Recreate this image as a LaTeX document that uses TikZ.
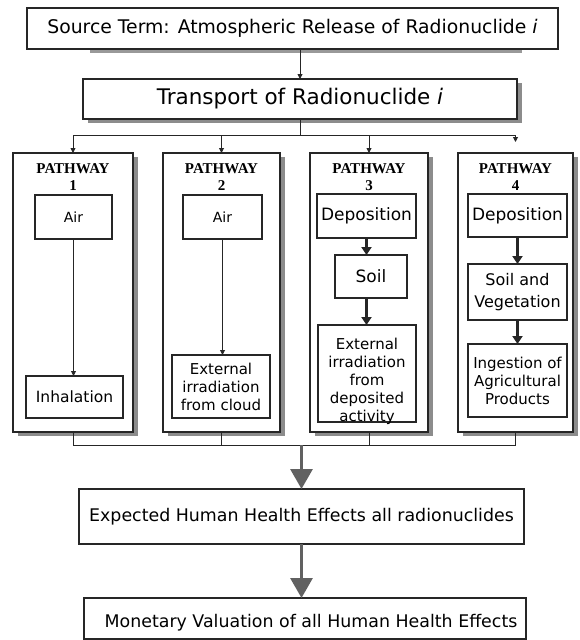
\documentclass[tikz,border=0pt]{standalone}
\usepackage{fontspec}
\setmainfont{DejaVu Sans}
\newfontfamily\pwfont{Liberation Serif}
\usetikzlibrary{arrows.meta,shadows}
\begin{document}
\begin{tikzpicture}[x=1pt,y=-1pt,
  box/.style={draw=black!85, line width=1.3pt, fill=white, anchor=north west, inner sep=0pt, outer sep=0pt, align=center},
  shad/.style={drop shadow={shadow xshift=5pt, shadow yshift=-4pt, fill=black!45, opacity=1}},
  inbox/.style={draw=black!85, line width=1.1pt, fill=white, anchor=north west, inner sep=0pt, outer sep=0pt, align=center, font=\fontsize{15}{18}\selectfont},
  intext/.style={align=center, inner sep=0pt, font=\fontsize{15}{18}\selectfont},
  head/.style={align=center, inner sep=0pt, font=\pwfont\bfseries\fontsize{15}{17}\selectfont},
  thinarr/.style={draw=black!85, line width=0.9pt, -{Triangle[length=5pt,width=5pt]}},
  thickarr/.style={draw=black!85, line width=2.2pt, -{Triangle[length=8pt,width=10pt]}},
  bigarr/.style={draw=black!62, line width=3pt, -{Triangle[length=20pt,width=22pt]}},
  conn/.style={draw=black!85, line width=0.9pt},
]
\useasboundingbox (0,0) rectangle (579,640);
% top box
\fill[black!40] (90,49) rectangle (522,53);
\node[box, minimum width=531pt, minimum height=41pt, font=\fontsize{18.8}{21}\selectfont] (top) at (27,8)
  {Source Term: Atmospheric Release of Radionuclide \textit{i}};
\node[box, shad, minimum width=434pt, minimum height=40pt, font=\fontsize{21.5}{24}\selectfont] (tr) at (83,79)
  {Transport of Radionuclide \textit{i}};
% pathway boxes
\node[box, shad, minimum width=120pt, minimum height=279pt] (p1) at (13,153) {};
\node[box, shad, minimum width=117pt, minimum height=279pt] (p2) at (163,153) {};
\node[box, shad, minimum width=118pt, minimum height=279pt] (p3) at (310,153) {};
\node[box, shad, minimum width=115pt, minimum height=279pt] (p4) at (458,153) {};
% headers
\node[head] (h1) at (73,177) {PATHWAY\\1};
\node[head] (h2) at (221.5,177) {PATHWAY\\2};
\node[head] (h3) at (369,177) {PATHWAY\\3};
\node[head] (h4) at (515.5,177) {PATHWAY\\4};
% inner boxes
\node[inbox, minimum width=77pt, minimum height=44pt, font=\fontsize{14}{18}\selectfont] (a1) at (35,195) {Air};
\node[inbox, minimum width=97pt, minimum height=42pt, font=\fontsize{15.5}{18}\selectfont] (i1) at (26,376) {Inhalation};
\node[inbox, minimum width=79pt, minimum height=44pt, font=\fontsize{14}{18}\selectfont] (a2) at (183,195) {Air};
\node[inbox, minimum width=98pt, minimum height=63pt] (e2) at (172,355) {External\\irradiation\\from cloud};
\node[inbox, minimum width=99pt, minimum height=44pt, font=\fontsize{17}{18}\selectfont] (d3) at (317,194) {Deposition};
\node[inbox, minimum width=72pt, minimum height=43pt, font=\fontsize{17}{18}\selectfont] (s3) at (335,255) {Soil};
\node[inbox, minimum width=98pt, minimum height=97pt] (e3) at (318,325) {};
\node[intext] (t3) at (367,381) {External\\irradiation\\from\\deposited\\activity};
\node[inbox, minimum width=99pt, minimum height=43pt, font=\fontsize{17}{18}\selectfont] (d4) at (468,194) {Deposition};
\node[inbox, minimum width=99pt, minimum height=56pt, font=\fontsize{16}{22}\selectfont] (s4) at (468,264) {Soil and\\Vegetation};
\node[inbox, minimum width=99pt, minimum height=73pt] (g4) at (468,344) {Ingestion of\\Agricultural\\Products};
% bottom boxes
\node[box, minimum width=445pt, minimum height=55pt, font=\fontsize{17.4}{20}\selectfont] (exp) at (79,489)
  {Expected Human Health Effects all radionuclides};
\node[box, minimum width=442pt, minimum height=41pt] (mon) at (84,598) {};
\node[inner sep=0pt, font=\fontsize{17.4}{20}\selectfont] (mt) at (311,623) {Monetary Valuation of all Human Health Effects};
% top connectors
\coordinate (tb) at (301,135);
\coordinate (p4in) at (515.5,142);
\draw[thinarr] (top.south -| tr.north) -- (tr.north);
\draw[conn] (tr.south) -- (tr.south |- tb);
\draw[conn] (p1.north |- tb) -- (p4.north |- tb);
\draw[thinarr] (p1.north |- tb) -- (p1.north);
\draw[thinarr] (p2.north |- tb) -- (p2.north);
\draw[thinarr] (p3.north |- tb) -- (p3.north);
\draw[thinarr] (p4.north |- tb) -- (p4in);
% inner arrows
\draw[thinarr] (a1.south) -- (a1.south |- i1.north);
\draw[thinarr] (a2.south) -- (a2.south |- e2.north);
\draw[thickarr] (d3.south) -- (d3.south |- s3.north);
\draw[thickarr] (d3.south |- s3.south) -- (d3.south |- e3.north);
\draw[thickarr] (d4.south) -- (s4.north);
\draw[thickarr] (s4.south) -- (g4.north);
% bottom connectors
\coordinate (bb) at (301,445);
\draw[conn] (p1.south) -- (p1.south |- bb) -- (p4.south |- bb) -- (p4.south);
\draw[conn] (p2.south) -- (p2.south |- bb);
\draw[conn] (p3.south) -- (p3.south |- bb);
\draw[bigarr] (bb -| exp.north) -- (exp.north);
\draw[bigarr] (exp.south) -- (exp.south |- mon.north);
\end{tikzpicture}
\end{document}
